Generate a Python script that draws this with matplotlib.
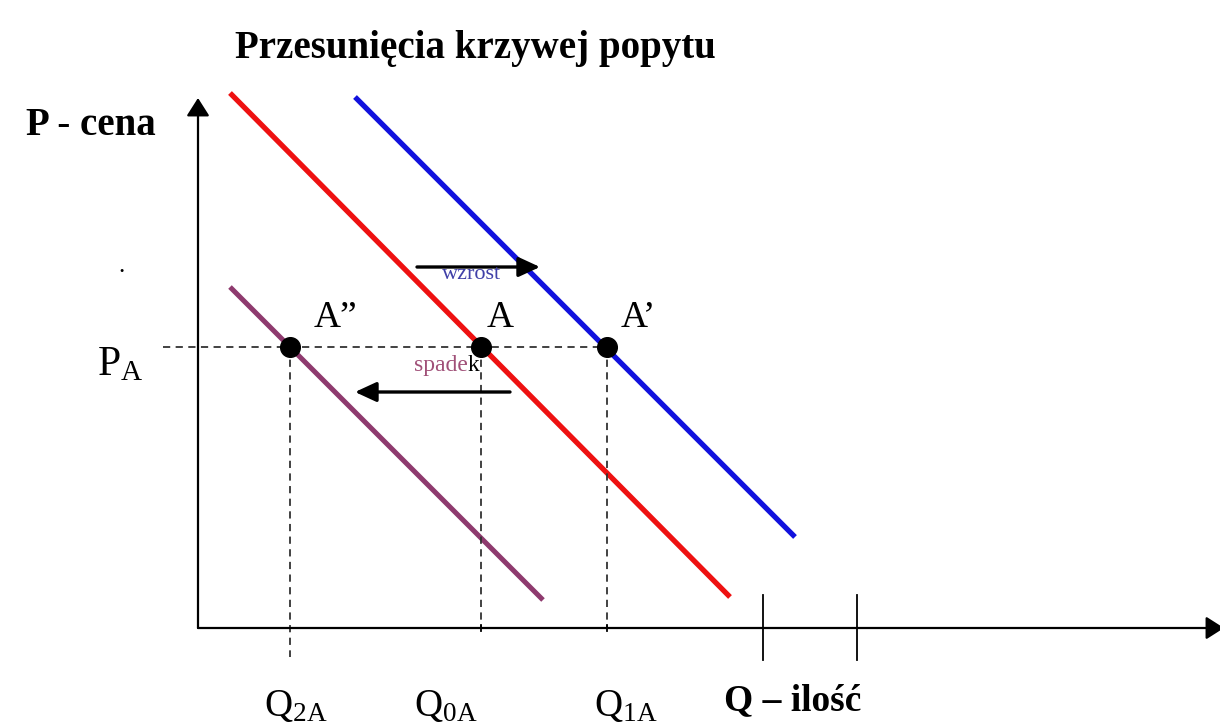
import matplotlib
matplotlib.use("Agg")
import matplotlib.pyplot as plt

plt.rcParams['font.family'] = ['Liberation Serif', 'DejaVu Serif']
plt.rcParams['mathtext.fontset'] = 'custom'
plt.rcParams['mathtext.rm'] = 'Liberation Serif'
plt.rcParams['mathtext.it'] = 'Liberation Serif'

# ---- data (quantity Q, price P) ----
red_q = [30, 530]
red_p = [535, 31]
blue_q = [155, 595]
blue_p = [531, 91]
purple_q = [30, 343]
purple_p = [341, 28]

p_a = 281
q_points = [90, 281, 407]           # Q2A, Q0A, Q1A
point_labels = ["A\u201d", "A", "A\u2019"]
q_labels = [r"$\mathregular{Q_{2A}}$", r"$\mathregular{Q_{0A}}$", r"$\mathregular{Q_{1A}}$"]
extra_ticks = [563, 657]

title = "Przesunięcia krzywej popytu"
y_label = "P - cena"
x_label = "Q – ilość"

fig = plt.figure(figsize=(12.2, 7.24), dpi=100)
ax = fig.add_axes([0, 0, 1, 1])
ax.set_xlim(-200, 1020)
ax.set_ylim(-96, 628)
ax.axis('off')

# axes with arrows
axis_arrow = dict(arrowstyle='-|>,head_length=1.1,head_width=0.7', color='black', lw=1.6,
                  shrinkA=0, shrinkB=0)
ax.annotate('', xy=(-2, 530), xytext=(-2, 0), arrowprops=axis_arrow, annotation_clip=False)
ax.annotate('', xy=(1024, 0), xytext=(-2, 0), arrowprops=axis_arrow, annotation_clip=False)

# curves
ax.plot(red_q, red_p, color='#ee1111', lw=3.8, solid_capstyle='butt')
ax.plot(blue_q, blue_p, color='#1111dd', lw=3.8, solid_capstyle='butt')
ax.plot(purple_q, purple_p, color='#8e3a6e', lw=3.6, solid_capstyle='butt')

# dashed guides
dash = dict(color='#333333', lw=1.3, ls=(0, (4, 3)))
ax.plot([-37, q_points[2]], [p_a, p_a], **dash)
ax.plot([q_points[0], q_points[0]], [p_a, -29], **dash)
ax.plot([q_points[1], q_points[1]], [p_a, 0], **dash)
ax.plot([q_points[2], q_points[2]], [p_a, 0], **dash)

# small ticks at Q0A and Q1A
for q in q_points[1:]:
    ax.plot([q, q], [-3, 3], color='black', lw=1.3)
# extra ticks
for q in extra_ticks:
    ax.plot([q, q], [33, -32], color='black', lw=1.3)

# points
ax.scatter(q_points, [p_a] * 3, s=200, color='black', zorder=5)
label_dx = [45, 19, 31]
for q, lab, dx in zip(q_points, point_labels, label_dx):
    ax.text(q + dx, p_a + 20, lab, fontsize=27, ha='center', va='baseline')

# shift arrows
shift_arrow = dict(arrowstyle='-|>,head_length=1.3,head_width=0.6', color='black', lw=2.4,
                   shrinkA=0, shrinkB=0)
ax.annotate('', xy=(340, 361), xytext=(217, 361), arrowprops=shift_arrow)
ax.text(272, 349, "wzrost", fontsize=16, color='#4040a8', ha='center', va='baseline')
ax.annotate('', xy=(155, 236), xytext=(310, 236), arrowprops=shift_arrow)
ax.text(268, 257, "spade", fontsize=17, color='#a05078', ha='right', va='baseline')
ax.text(268, 257, "k", fontsize=17, color='black', ha='left', va='baseline')

# text labels
ax.text(-80, 253, r"$\mathregular{P_{A}}$", fontsize=30, ha='center', va='baseline')
ax.text(-109, 493, y_label, fontsize=28, fontweight='bold', ha='center', va='baseline')
ax.text(-78, 356, ".", fontsize=18, ha='center', va='baseline')
ax.text(275, 570, title, fontsize=28, fontweight='bold', ha='center', va='baseline')
label_x = [96, 246, 426]
for x, lab in zip(label_x, q_labels):
    ax.text(x, -88, lab, fontsize=28, ha='center', va='baseline')
ax.text(593, -82, x_label, fontsize=27, fontweight='bold', ha='center', va='baseline')

fig.savefig("out.png", dpi=100)
